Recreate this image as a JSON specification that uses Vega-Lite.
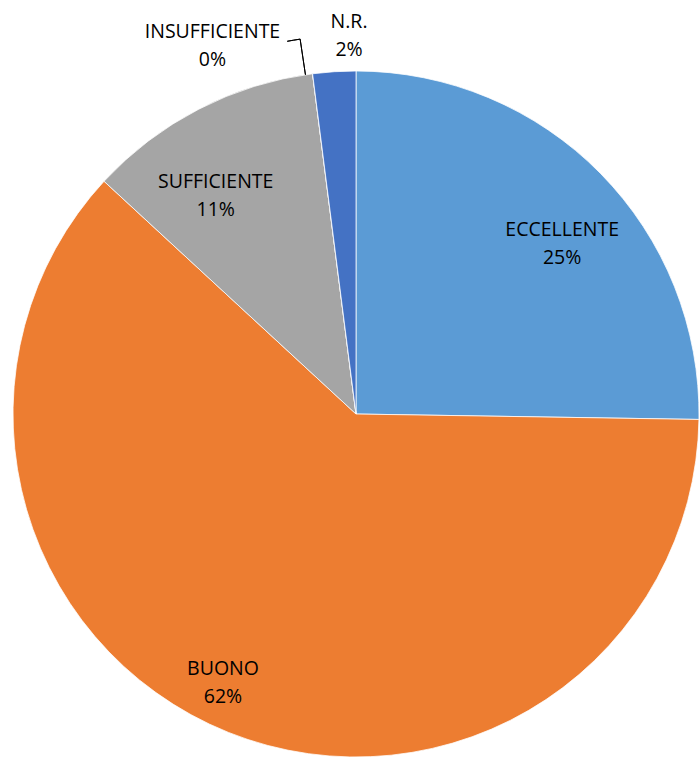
{
  "$schema": "https://vega.github.io/schema/vega-lite/v6.json",
  "width": 686,
  "height": 686,
  "autosize": {"type": "none"},
  "padding": {"left": 13, "top": 71, "right": 0, "bottom": 1},
  "background": "white",
  "config": {"view": {"stroke": null}},
  "data": {
    "values": [
      {"categoria": "ECCELLENTE", "count": 25},
      {"categoria": "BUONO", "count": 61},
      {"categoria": "SUFFICIENTE", "count": 11},
      {"categoria": "INSUFFICIENTE", "count": 0},
      {"categoria": "N.R.", "count": 2}
    ]
  },
  "transform": [
    {"window": [{"op": "sum", "field": "count", "as": "s1"}], "frame": [null, 0]},
    {"joinaggregate": [{"op": "sum", "field": "count", "as": "total"}]},
    {"calculate": "datum.s1 - datum.count", "as": "s0"},
    {"calculate": "(datum.s0 + datum.s1) / 2", "as": "mid"},
    {"calculate": "[datum.categoria, round(datum.count / datum.total * 100) + '%']", "as": "label"}
  ],
  "layer": [
    {
      "mark": {"type": "arc", "stroke": "white", "strokeWidth": 0.75},
      "encoding": {
        "theta": {"field": "s1", "type": "quantitative", "scale": {"nice": false, "zero": true}},
        "theta2": {"field": "s0"},
        "color": {
          "field": "categoria",
          "type": "nominal",
          "scale": {
            "domain": ["ECCELLENTE", "BUONO", "SUFFICIENTE", "INSUFFICIENTE", "N.R."],
            "range": ["#5B9BD5", "#ED7D31", "#A5A5A5", "#FFC000", "#4472C4"]
          },
          "legend": null
        }
      }
    },
    {
      "transform": [{"filter": "datum.categoria === 'INSUFFICIENTE'"}],
      "mark": {"type": "arc", "filled": false, "stroke": "black", "strokeWidth": 1, "radius": 379, "radius2": 343, "thetaOffset": -0.021, "theta2Offset": -0.021},
      "encoding": {
        "theta": {"field": "s1", "type": "quantitative"},
        "theta2": {"field": "s0"}
      }
    },
    {
      "transform": [{"filter": "datum.categoria === 'INSUFFICIENTE'"}],
      "mark": {"type": "arc", "filled": false, "stroke": "black", "strokeWidth": 1, "radius": 379, "radius2": 379, "thetaOffset": -0.0555, "theta2Offset": -0.021},
      "encoding": {
        "theta": {"field": "s1", "type": "quantitative"},
        "theta2": {"field": "s0"}
      }
    },
    {
      "transform": [{"filter": "datum.categoria === 'ECCELLENTE'"}],
      "mark": {"type": "text", "radius": 276, "thetaOffset": 0.05, "font": "Open Sans", "fontSize": 19.5, "lineHeight": 28, "color": "black", "baseline": "middle", "align": "center"},
      "encoding": {"theta": {"field": "mid", "type": "quantitative"}, "text": {"field": "label"}}
    },
    {
      "transform": [{"filter": "datum.categoria === 'BUONO'"}],
      "mark": {"type": "text", "radius": 287.6, "thetaOffset": 0.1, "font": "Open Sans", "fontSize": 19.5, "lineHeight": 28, "color": "black", "baseline": "middle", "align": "center"},
      "encoding": {"theta": {"field": "mid", "type": "quantitative"}, "text": {"field": "label"}}
    },
    {
      "transform": [{"filter": "datum.categoria === 'SUFFICIENTE'"}],
      "mark": {"type": "text", "radius": 271, "thetaOffset": -0.068, "font": "Open Sans", "fontSize": 19.5, "lineHeight": 28, "color": "black", "baseline": "middle", "align": "center"},
      "encoding": {"theta": {"field": "mid", "type": "quantitative"}, "text": {"field": "label"}}
    },
    {
      "transform": [{"filter": "datum.categoria === 'INSUFFICIENTE'"}],
      "mark": {"type": "text", "radius": 408, "thetaOffset": -0.2325, "font": "Open Sans", "fontSize": 19.5, "lineHeight": 28, "color": "black", "baseline": "middle", "align": "center"},
      "encoding": {"theta": {"field": "mid", "type": "quantitative"}, "text": {"field": "label"}}
    },
    {
      "transform": [{"filter": "datum.categoria === 'N.R.'"}],
      "mark": {"type": "text", "radius": 392.4, "thetaOffset": 0.0457, "font": "Open Sans", "fontSize": 19.5, "lineHeight": 28, "color": "black", "baseline": "middle", "align": "center"},
      "encoding": {"theta": {"field": "mid", "type": "quantitative"}, "text": {"field": "label"}}
    }
  ]
}
